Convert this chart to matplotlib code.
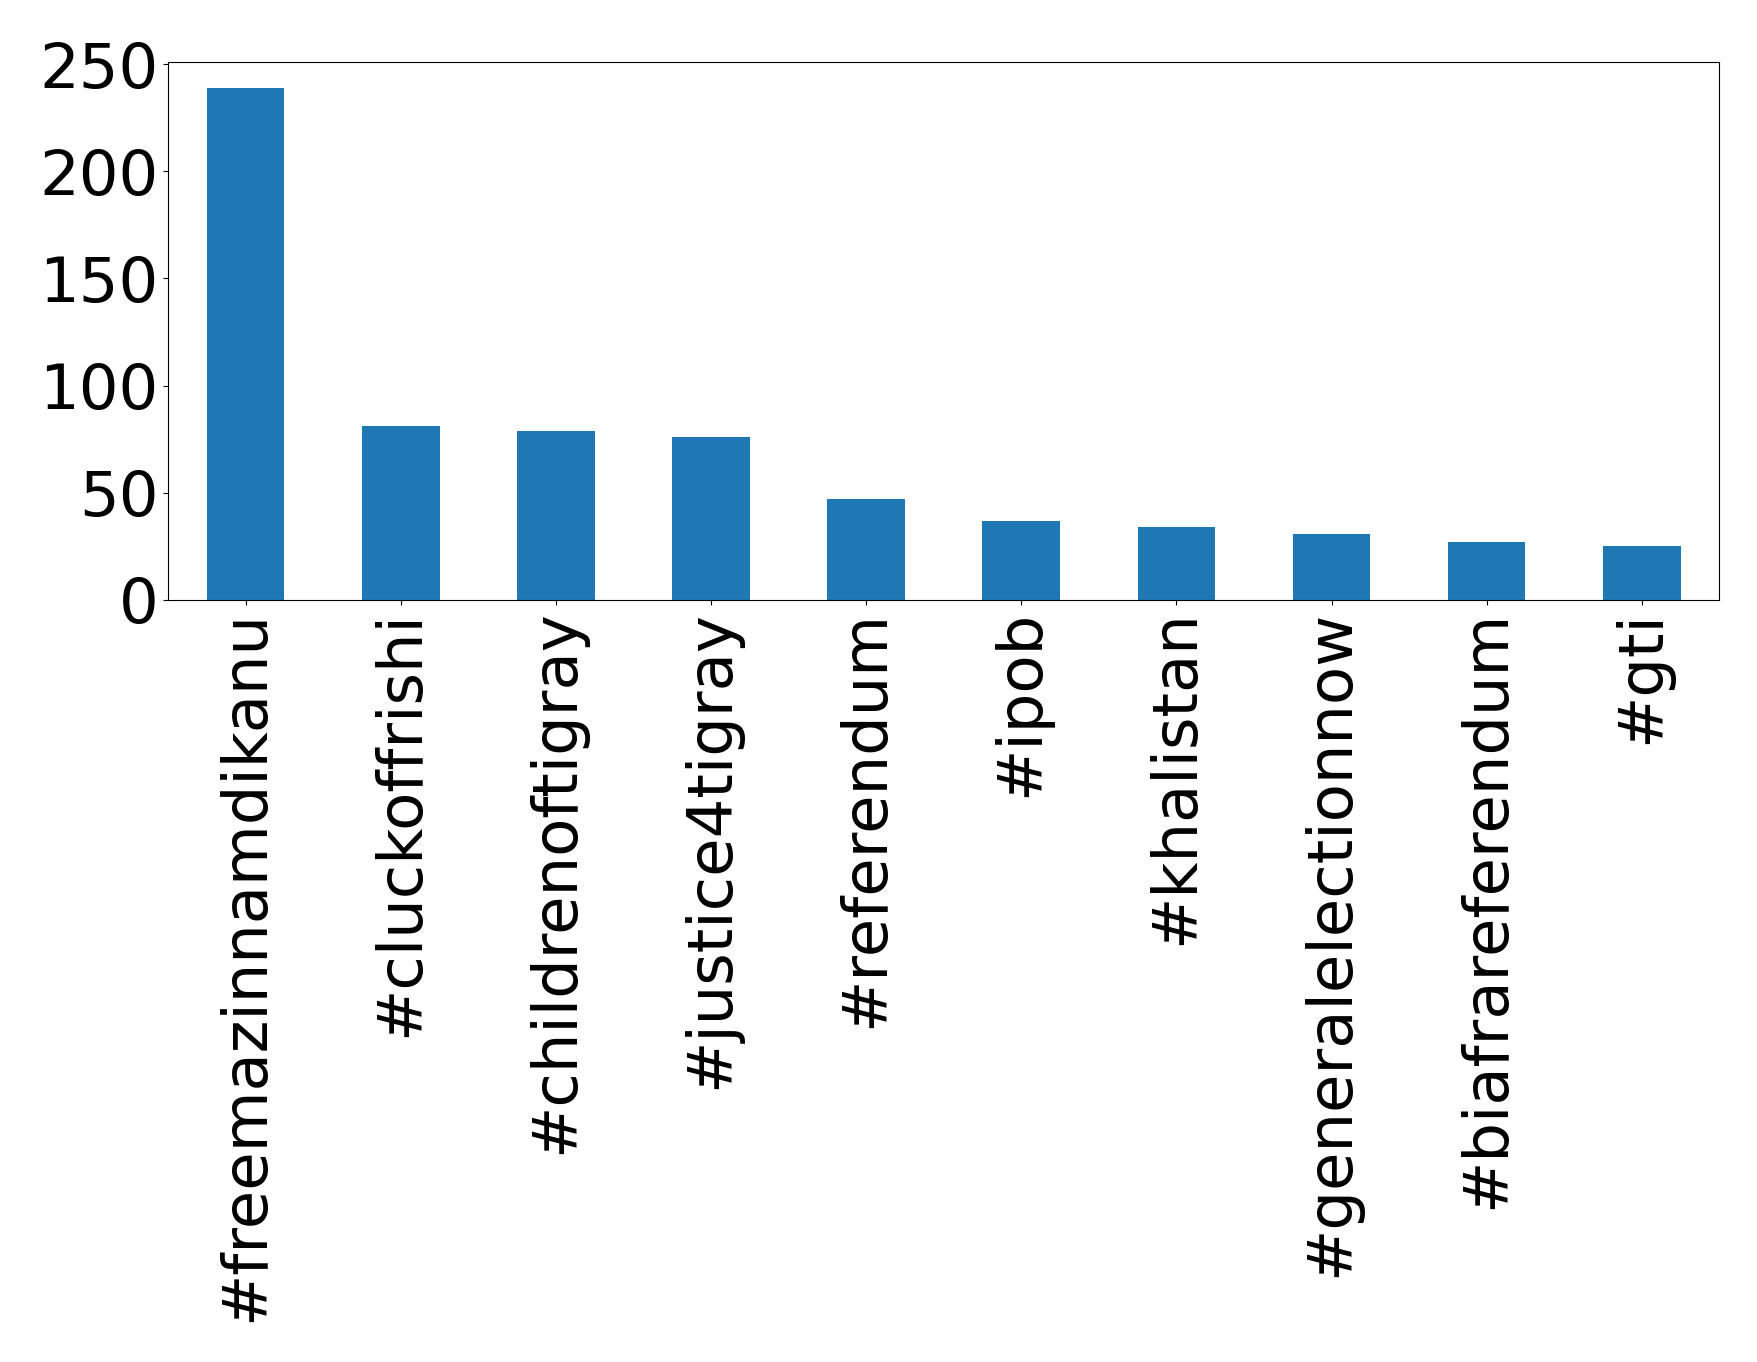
import matplotlib
matplotlib.use("Agg")
import matplotlib.pyplot as plt
import numpy as np

hashtags = ["#freemazinnamdikanu", "#cluckoffrishi", "#childrenoftigray", "#justice4tigray",
            "#referendum", "#ipob", "#khalistan", "#generalelectionnow",
            "#biafrareferendum", "#gti"]
counts = [239, 81, 79, 76, 47, 37, 34, 31, 27, 25]

fig = plt.figure(figsize=(17.58, 13.62), dpi=100)
ax = fig.add_axes([0.0956, 0.5595, 0.978 - 0.0956, 0.9545 - 0.5595])
x = np.arange(len(hashtags))
ax.bar(x, counts, width=0.5, color="#1f77b4")
ax.set_xlim(-0.5, len(hashtags) - 0.5)
ax.set_xticks(x)
ax.set_xticklabels(hashtags, rotation=90, fontsize=45)
ax.set_yticks([0, 50, 100, 150, 200, 250])
ax.tick_params(axis="y", labelsize=45)
fig.savefig("out.png", dpi=100)
